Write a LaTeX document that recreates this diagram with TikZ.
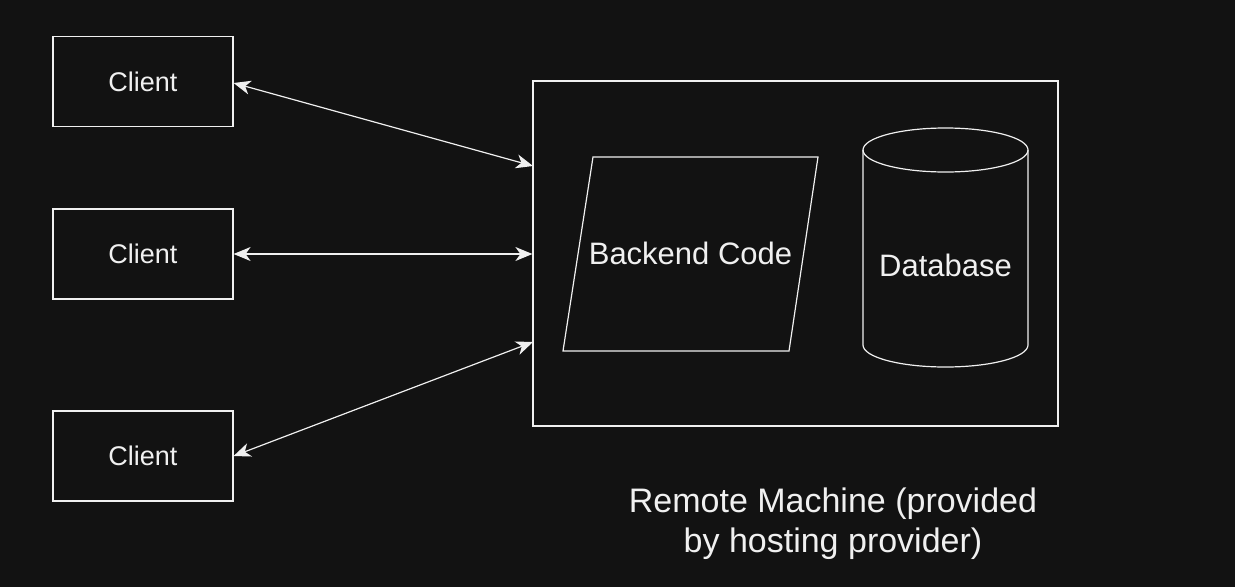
\documentclass[tikz,border=0pt]{standalone}
\usepackage{fontspec}
\setmainfont{Liberation Sans}
\usetikzlibrary{arrows.meta}
\definecolor{bg}{HTML}{121212}
\definecolor{fg}{HTML}{F0F0F0}
\begin{document}
\begin{tikzpicture}[x=1pt,y=-1pt,
  line width=1.2pt,
  every node/.style={text=fg},
  clientbox/.style={draw=fg,minimum width=180pt,minimum height=90pt,inner sep=0pt,font=\fontsize{27}{32}\selectfont},
  conn/.style={draw=fg,line width=1.2pt,{Stealth[length=17pt,width=14pt,inset=5pt]}-{Stealth[length=17pt,width=14pt,inset=5pt]}},
  lbl/.style={font=\fontsize{31}{38}\selectfont,inner sep=0pt}]
\fill[bg] (0,0) rectangle (1235,587);
\useasboundingbox (0,0) rectangle (1235,587);
\node[clientbox] (c1) at (143,81.5) {Client};
\node[clientbox] (c2) at (143,254) {Client};
\node[clientbox] (c3) at (143,456) {Client};
\node[draw=fg,minimum width=525pt,minimum height=345pt,inner sep=0pt] (remote) at (795.5,253.5) {};
% parallelogram
\draw[fg] (593,157) -- (818,157) -- (789,351) -- (563,351) -- cycle;
\node[lbl] (backend) at (690.5,253) {Backend Code};
% cylinder
\draw[fg] (863,150) -- (863,345) arc[start angle=180,end angle=0,x radius=82.5,y radius=22] -- (1028,150);
\draw[fg] (945.5,150) ellipse[x radius=82.5,y radius=22];
\node[lbl] (db) at (945.5,265) {Database};
\node[font=\fontsize{34}{40}\selectfont,align=center,inner sep=0pt] (rlabel) at (833,524) {Remote Machine (provided\\by hosting provider)};
\coordinate (r1) at (533,166);
\coordinate (r3) at (533,342);
\draw[conn] (c1.east |- 0,83) -- (r1);
\draw[conn] (c2.east) -- (remote.west |- c2.east);
\draw[conn] (c3.east) -- (r3);
\end{tikzpicture}
\end{document}
